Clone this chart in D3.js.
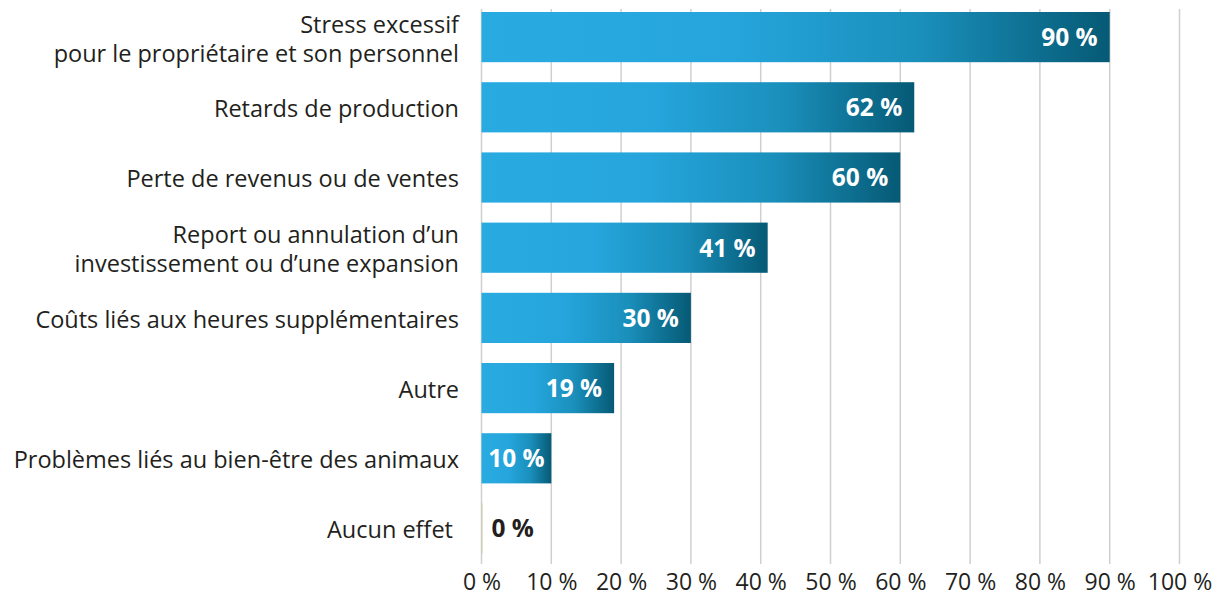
<!DOCTYPE html>
<html>
<head>
<meta charset="utf-8">
<script src="https://cdn.jsdelivr.net/npm/d3@7"></script>
<style>
  body { margin: 0; background: #fff; }
  svg text { font-family: "Open Sans", "Noto Sans", sans-serif; }
</style>
</head>
<body>
<svg id="chart" width="1222" height="599"></svg>
<script>
// données
const categories = [
  ["Stress excessif", "pour le propriétaire et son personnel"],
  ["Retards de production"],
  ["Perte de revenus ou de ventes"],
  ["Report ou annulation d’un", "investissement ou d’une expansion"],
  ["Coûts liés aux heures supplémentaires"],
  ["Autre"],
  ["Problèmes liés au bien-être des animaux"],
  ["Aucun effet"]
];
const values = [90, 62, 60, 41, 30, 19, 10, 0];
const tickValues = [0, 10, 20, 30, 40, 50, 60, 70, 80, 90, 100];

const svg = d3.select("#chart");
const ink = "#231f20";

const x = d3.scaleLinear().domain([0, 100]).range([481.5, 1179.5]);
const y = d3.scaleBand()
  .domain(d3.range(categories.length))
  .range([2, 563.6])
  .paddingInner(0.285)
  .paddingOuter(0.1425);

// dégradé horizontal des barres
const grad = svg.append("defs").append("linearGradient")
  .attr("id", "barGrad")
  .attr("x1", "0%").attr("x2", "100%").attr("y1", "0%").attr("y2", "0%");
grad.append("stop").attr("offset", "0%").attr("stop-color", "#29abe2");
grad.append("stop").attr("offset", "40%").attr("stop-color", "#25a5dc");
grad.append("stop").attr("offset", "70%").attr("stop-color", "#1a8fbb");
grad.append("stop").attr("offset", "100%").attr("stop-color", "#065a75");

// grille verticale
svg.append("g")
  .selectAll("line")
  .data(tickValues)
  .join("line")
  .attr("x1", d => x(d)).attr("x2", d => x(d))
  .attr("y1", 9).attr("y2", 564)
  .attr("stroke", "#cfcfcf")
  .attr("stroke-width", 1.5);

// axe du bas (texte seulement)
const xAxis = d3.axisBottom(x)
  .tickValues(tickValues)
  .tickFormat(d => d + " %")
  .tickSize(0)
  .tickPadding(0);
const gx = svg.append("g")
  .attr("transform", "translate(0,573)")
  .call(xAxis);
gx.select(".domain").remove();
gx.selectAll("text")
  .attr("font-size", 23)
  .attr("fill", ink)
  .attr("dy", "0.72em")
  .style("font-family", "\"Open Sans\", sans-serif");

// barres
svg.append("g")
  .selectAll("rect")
  .data(values)
  .join("rect")
  .attr("x", x(0))
  .attr("y", (d, i) => y(i))
  .attr("width", d => Math.max(1, x(d) - x(0)))
  .attr("height", y.bandwidth())
  .attr("fill", d => d > 0 ? "url(#barGrad)" : "#c8cfa8");

// étiquettes de valeurs
const vals = svg.append("g")
  .selectAll("text")
  .data(values)
  .join("text")
  .attr("y", (d, i) => y(i) + y.bandwidth() / 2)
  .attr("dy", "0.36em")
  .attr("font-size", 24.5)
  .attr("font-weight", 700)
  .attr("fill", d => d > 0 ? "#fff" : ink)
  .text(d => d + " %");
vals.each(function (d) {
  const w = this.getComputedTextLength();
  const barW = x(d) - x(0);
  const t = d3.select(this);
  if (d === 0) {
    t.attr("x", x(0) + 10).attr("text-anchor", "start");
  } else if (barW < w + 24) {
    t.attr("x", x(0) + barW / 2).attr("text-anchor", "middle");
  } else {
    t.attr("x", x(d) - 12).attr("text-anchor", "end");
  }
});

// étiquettes de catégories
const lab = svg.append("g")
  .selectAll("text")
  .data(categories)
  .join("text")
  .attr("text-anchor", "end")
  .attr("font-size", 23.5)
  .attr("fill", ink)
  .attr("transform", (d, i) => {
    const cy = y(i) + y.bandwidth() / 2 + 1.5;
    return `translate(${i === categories.length - 1 ? 453 : 459},${cy})`;
  });
lab.selectAll("tspan")
  .data(d => d.map((t, k) => ({ t, k, n: d.length })))
  .join("tspan")
  .attr("x", 0)
  .attr("y", d => (d.k - (d.n - 1) / 2) * 29)
  .attr("dy", "0.36em")
  .text(d => d.t);
</script>
</body>
</html>
